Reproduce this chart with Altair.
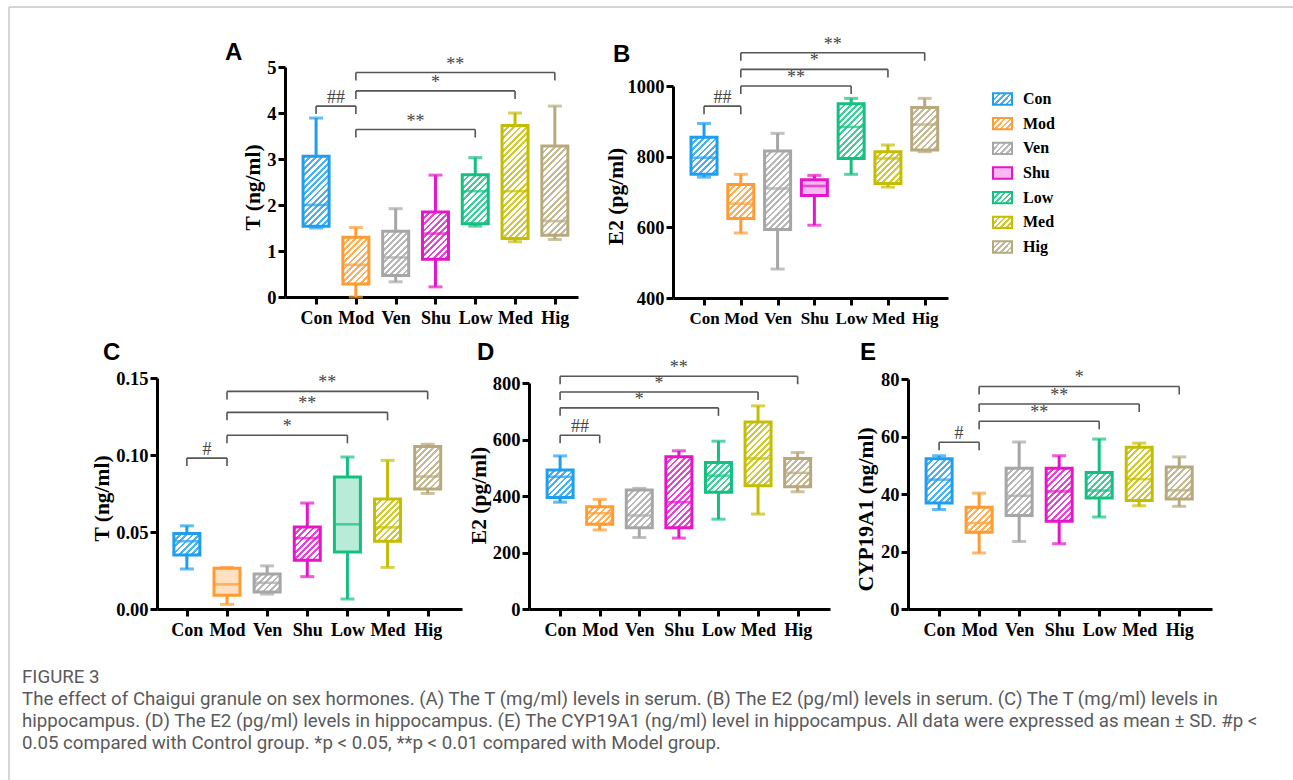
import math
import altair as alt
import pandas as pd

GROUPS = ["Con", "Mod", "Ven", "Shu", "Low", "Med", "Hig"]
COLORS = ["#1f9ef0", "#ff9b30", "#a6a6a6", "#e515c9", "#14c07f", "#c5bd05", "#b8a97c"]

# ---- Panel A: T (ng/ml) serum
A_MIN = [1.50, 0.00, 0.33, 0.22, 1.54, 1.20, 1.25]
A_Q1 = [1.54, 0.28, 0.47, 0.82, 1.59, 1.27, 1.34]
A_MED = [2.00, 0.70, 0.86, 1.38, 2.30, 2.30, 1.65]
A_Q3 = [3.06, 1.30, 1.43, 1.85, 2.66, 3.73, 3.28]
A_MAX = [3.89, 1.51, 1.92, 2.65, 3.03, 4.00, 4.15]
A_BR_FROM = [0, 1, 1, 1]
A_BR_TO = [1, 4, 5, 6]
A_BR_LEVEL = [4.15, 3.64, 4.48, 4.88]
A_BR_LABEL = ["##", "**", "*", "**"]

# ---- Panel B: E2 (pg/ml) serum
B_MIN = [742, 584, 482, 606, 750, 714, 814]
B_Q1 = [750, 625, 594, 690, 795, 724, 819]
B_MED = [797, 667, 710, 717, 884, 795, 891]
B_Q3 = [855, 721, 816, 735, 950, 814, 939]
B_MAX = [894, 750, 866, 747, 965, 833, 965]
B_BR_FROM = [0, 1, 1, 1]
B_BR_TO = [1, 4, 5, 6]
B_BR_LEVEL = [943, 1000, 1047, 1094]
B_BR_LABEL = ["##", "**", "*", "**"]

# ---- Panel C: T (ng/ml) hippocampus
C_MIN = [0.026, 0.003, 0.0097, 0.021, 0.0065, 0.027, 0.075]
C_Q1 = [0.035, 0.009, 0.011, 0.0316, 0.037, 0.044, 0.078]
C_MED = [0.044, 0.016, 0.017, 0.046, 0.055, 0.053, 0.086]
C_Q3 = [0.049, 0.0264, 0.0227, 0.0532, 0.0857, 0.0714, 0.1056]
C_MAX = [0.054, 0.027, 0.028, 0.0688, 0.0987, 0.0965, 0.107]
C_BR_FROM = [0, 1, 1, 1]
C_BR_TO = [1, 4, 5, 6]
C_BR_LEVEL = [0.098, 0.1128, 0.1277, 0.1413]
C_BR_LABEL = ["#", "*", "**", "**"]

# ---- Panel D: E2 (pg/ml) hippocampus
D_MIN = [378, 280, 253, 251, 318, 336, 415]
D_Q1 = [395, 300, 288, 288, 413, 436, 433]
D_MED = [468, 339, 331, 378, 472, 533, 482]
D_Q3 = [492, 362, 421, 539, 519, 662, 533]
D_MAX = [542, 388, 427, 560, 594, 719, 554]
D_BR_FROM = [0, 0, 0, 0]
D_BR_TO = [1, 4, 5, 6]
D_BR_LEVEL = [615, 712, 768, 824]
D_BR_LABEL = ["##", "*", "*", "**"]

# ---- Panel E: CYP19A1 (ng/ml) hippocampus
E_MIN = [34.6, 19.5, 23.5, 22.7, 32.0, 35.9, 35.7]
E_Q1 = [36.9, 26.7, 32.5, 30.5, 38.6, 37.7, 38.3]
E_MED = [45.0, 29.9, 39.4, 40.9, 41.2, 45.2, 41.3]
E_Q3 = [52.3, 35.4, 49.0, 49.0, 47.5, 56.3, 49.4]
E_MAX = [53.3, 40.3, 58.1, 53.3, 59.1, 57.7, 52.9]
E_BR_FROM = [0, 1, 1, 1]
E_BR_TO = [1, 4, 5, 6]
E_BR_LEVEL = [58.0, 65.3, 71.3, 77.4]
E_BR_LABEL = ["#", "**", "**", "*"]

CAPTION = [
    "FIGURE 3",
    "The effect of Chaigui granule on sex hormones. (A) The T (mg/ml) levels in serum. (B) The E2 (pg/ml) levels in serum. (C) The T (mg/ml) levels in",
    "hippocampus. (D) The E2 (pg/ml) levels in hippocampus. (E) The CYP19A1 (ng/ml) level in hippocampus. All data were expressed as mean \u00b1 SD. #p <",
    "0.05 compared with Control group. *p < 0.05, **p < 0.01 compared with Model group.",
]

SERIF = "Liberation Serif"
BR_COLOR = "#555555"
BOX_W = 26
PAGE_W, PAGE_H = 1293, 780
LABEL_EXPR = "['Con','Mod','Ven','Shu','Low','Med','Hig'][datum.value]"


def mix(c, t):
    r, g, b = (int(c[i:i + 2], 16) for i in (1, 3, 5))
    f = lambda v: max(0, min(255, round(255 + (v - 255) * t)))
    return "#%02x%02x%02x" % (f(r), f(g), f(b))


def hatch(color, w, h, period=4.4, frac=0.45, strength=0.8):
    h = max(h, 1.0)
    r = h / w
    c = (1 + r) / (1 + r * r)
    n = (w + h) / math.sqrt(2) / period
    col = mix(color, strength)
    stops = []
    k = 0
    while k < n:
        t0 = round(k / n, 5)
        t1 = round(min((k + frac) / n, 1), 5)
        stops += [{"offset": t0, "color": "#ffffff"}, {"offset": t0, "color": col},
                  {"offset": t1, "color": col}, {"offset": t1, "color": "#ffffff"}]
        k += 1
    return {"gradient": "linear", "x1": 0, "y1": 0, "x2": round(c, 5),
            "y2": round(c * r, 5), "stops": stops}


def one(d):
    return pd.DataFrame(d)


def panel(P):
    x0, x1 = P["xr"]
    ybot, ytop = P["yr"]
    y0, y1 = P["ydom"]
    W = x1 - x0
    Hpx = ybot - ytop
    lo = -P["first"] / P["step"]
    hi = (W - P["first"]) / P["step"]
    xs = alt.Scale(domain=[lo, hi], range=[x0, x1], nice=False, zero=False)
    ys = alt.Scale(domain=[y0, y1], range=[ybot, ytop], nice=False, zero=False)
    xax = alt.Axis(orient="bottom", offset=ybot - PAGE_H, values=list(range(7)),
                   labelExpr=LABEL_EXPR, title=None, labelFlush=False, labelAngle=0,
                   labelPadding=5, labelFontSize=P.get("xfs", 18))
    yax = alt.Axis(orient="left", offset=-x0, values=P["yticks"], format=P["fmt"],
                   title=P["title"], labelFlush=False, titleX=P["tx"], titleY=P["ty"],
                   titleBaseline="middle", titleAngle=270, labelPadding=2,
                   labelFontSize=18.5)

    def X(f):
        return alt.X(f"{f}:Q", scale=xs, axis=xax)

    def Y(f):
        return alt.Y(f"{f}:Q", scale=ys, axis=yax)

    col = alt.Color("g:N", scale=alt.Scale(domain=GROUPS, range=COLORS), legend=None)
    df = pd.DataFrame({"g": GROUPS, "idx": list(range(7)), "mn": P["mn"], "q1": P["q1"],
                       "md": P["md"], "q3": P["q3"], "mx": P["mx"]})
    layers = []
    layers.append(alt.Chart(df).mark_rule(strokeWidth=3).encode(
        x=X("idx"), y=Y("mn"), y2="mx:Q", color=col))
    for i in range(7):
        hpx = (P["q3"][i] - P["q1"][i]) / (y1 - y0) * Hpx
        fill = mix(COLORS[i], 0.3) if i in P["dotted"] else hatch(COLORS[i], BOX_W, hpx)
        layers.append(alt.Chart(df.iloc[[i]]).mark_bar(
            size=BOX_W, fill=fill, stroke=COLORS[i], strokeWidth=3).encode(
            x=X("idx"), y=Y("q1"), y2="q3:Q"))
    layers.append(alt.Chart(df).mark_tick(orient="horizontal", size=BOX_W, thickness=2.6).encode(
        x=X("idx"), y=Y("md"), color=col))
    layers.append(alt.Chart(df).transform_fold(["mn", "mx"], as_=["k", "v"]).mark_tick(
        orient="horizontal", size=14, thickness=3).encode(x=X("idx"), y=Y("v"), color=col))
    bdf = pd.DataFrame({"a": P["ba"], "b": P["bb"], "lev": P["blev"], "lab": P["blab"]})
    drop = 8 * (y1 - y0) / Hpx
    layers.append(alt.Chart(bdf).mark_rule(color=BR_COLOR, strokeWidth=1.6).encode(
        x=X("a"), x2="b:Q", y=Y("lev")))
    layers.append(alt.Chart(bdf).transform_fold(["a", "b"], as_=["end", "xe"]).transform_calculate(
        bot=f"datum.lev - {drop}").mark_rule(color=BR_COLOR, strokeWidth=1.6).encode(
        x=X("xe"), y=Y("lev"), y2="bot:Q"))
    layers.append(alt.Chart(bdf).transform_calculate(mid="(datum.a + datum.b) / 2").mark_text(
        font=SERIF, fontSize=18, color="#444444", baseline="alphabetic", dy=-3).encode(
        x=X("mid"), y=Y("lev"), text="lab:N"))
    layers.append(alt.Chart(one({"t": [P["letter"]]})).mark_text(
        font="Liberation Sans", fontWeight="bold", fontSize=24, align="left",
        baseline="alphabetic", color="black").encode(
        x=alt.value(P["lx"]), y=alt.value(P["ly"]), text="t:N"))
    return alt.layer(*layers)


def legend_chart():
    ls = alt.Scale(domain=[0, 6], range=[99, 247], nice=False, zero=False)
    ldf = pd.DataFrame({"g": GROUPS, "i": list(range(7))})
    layers = []
    for i in range(7):
        fill = mix(COLORS[i], 0.3) if i == 3 else hatch(COLORS[i], 19, 11, period=4.0)
        layers.append(alt.Chart(ldf.iloc[[i]]).transform_calculate(
            lo="datum.i - 0.23", hi="datum.i + 0.23").mark_rect(
            fill=fill, stroke=COLORS[i], strokeWidth=2).encode(
            x=alt.value(993), x2=alt.value(1012), y=alt.Y("lo:Q", scale=ls, axis=None), y2="hi:Q"))
    layers.append(alt.Chart(ldf).mark_text(
        font=SERIF, fontWeight="bold", fontSize=16, align="left", baseline="middle",
        color="black").encode(x=alt.value(1023), y=alt.Y("i:Q", scale=ls, axis=None), text="g:N"))
    return alt.layer(*layers)


PA = dict(xr=(285, 578), yr=(297, 67), first=27, step=41.2, ydom=(0, 5),
          yticks=[0, 1, 2, 3, 4, 5], fmt="d", title="T (ng/ml)", tx=-32, ty=187,
          mn=A_MIN, q1=A_Q1, md=A_MED, q3=A_Q3, mx=A_MAX,
          ba=A_BR_FROM, bb=A_BR_TO, blev=A_BR_LEVEL, blab=A_BR_LABEL, dotted=[],
          letter="A", lx=225, ly=60)
PB = dict(xr=(673, 948), yr=(298, 86), first=27, step=38.17, ydom=(400, 1000),
          yticks=[400, 600, 800, 1000], fmt="d", title="E2 (pg/ml)", tx=-57, ty=196,
          mn=B_MIN, q1=B_Q1, md=B_MED, q3=B_Q3, mx=B_MAX,
          ba=B_BR_FROM, bb=B_BR_TO, blev=B_BR_LEVEL, blab=B_BR_LABEL, dotted=[3],
          letter="B", lx=613, ly=62, xfs=17)
PC = dict(xr=(157, 462), yr=(609, 378), first=25.7, step=41.5, ydom=(0, 0.15),
          yticks=[0, 0.05, 0.10, 0.15], fmt=".2f", title="T (ng/ml)", tx=-55, ty=498,
          mn=C_MIN, q1=C_Q1, md=C_MED, q3=C_Q3, mx=C_MAX,
          ba=C_BR_FROM, bb=C_BR_TO, blev=C_BR_LEVEL, blab=C_BR_LABEL, dotted=[1, 4],
          letter="C", lx=103, ly=360)
PD = dict(xr=(529, 830), yr=(609, 383), first=27, step=40.95, ydom=(0, 800),
          yticks=[0, 200, 400, 600, 800], fmt="d", title="E2 (pg/ml)", tx=-50, ty=495,
          mn=D_MIN, q1=D_Q1, md=D_MED, q3=D_Q3, mx=D_MAX,
          ba=D_BR_FROM, bb=D_BR_TO, blev=D_BR_LEVEL, blab=D_BR_LABEL, dotted=[],
          letter="D", lx=477, ly=360)
PE = dict(xr=(908, 1212), yr=(609, 379), first=27, step=41.38, ydom=(0, 80),
          yticks=[0, 20, 40, 60, 80], fmt="d", title="CYP19A1 (ng/ml)", tx=-42, ty=509,
          mn=E_MIN, q1=E_Q1, md=E_MED, q3=E_Q3, mx=E_MAX,
          ba=E_BR_FROM, bb=E_BR_TO, blev=E_BR_LEVEL, blab=E_BR_LABEL, dotted=[],
          letter="E", lx=860, ly=360)

page_items = [
    alt.Chart(one({"v": [0]})).mark_rule(color="#c8c8c8", strokeWidth=1.5).encode(
        x=alt.value(9), y=alt.value(7), y2=alt.value(PAGE_H)),
    alt.Chart(one({"v": [0]})).mark_rule(color="#c8c8c8", strokeWidth=1.5).encode(
        x=alt.value(9), x2=alt.value(PAGE_W), y=alt.value(7)),
]
CAP_Y = [677, 699, 721, 743]
for k, line in enumerate(CAPTION):
    page_items.append(alt.Chart(one({"t": [line]})).mark_text(
        font="Roboto", fontSize=18.7, color="#5a5a5a", align="left",
        baseline="middle").encode(x=alt.value(22), y=alt.value(CAP_Y[k]), text="t:N"))

chart = alt.layer(
    panel(PA), panel(PB), panel(PC), panel(PD), panel(PE), legend_chart(), *page_items
).resolve_scale(x="independent", y="independent").properties(
    width=PAGE_W, height=PAGE_H, padding=0, autosize=alt.AutoSizeParams(type="none")
).configure_view(strokeWidth=0).configure_axis(
    labelFont=SERIF, labelFontWeight="bold", labelColor="black",
    titleFont=SERIF, titleFontWeight="bold", titleFontSize=21.5, titleColor="black",
    domainColor="black", domainWidth=3, tickColor="black", tickWidth=3, tickSize=7, grid=False)

chart.save("out.html", embed_options={"renderer": "svg", "actions": False})
